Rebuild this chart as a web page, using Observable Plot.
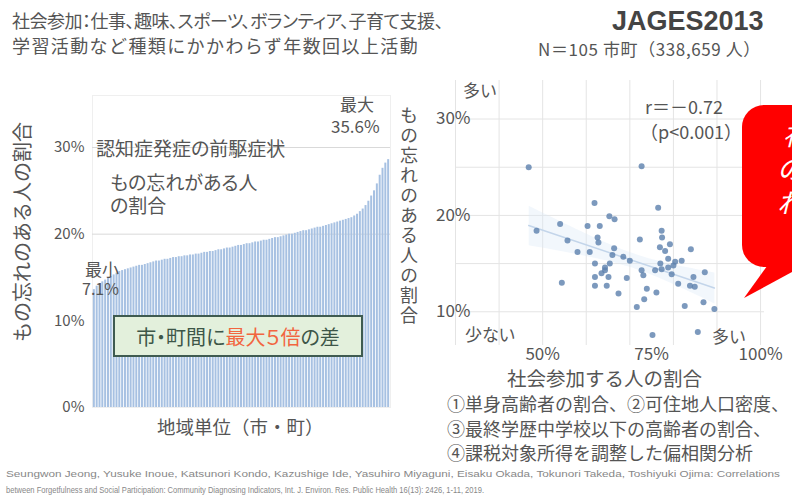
<!DOCTYPE html>
<html><head><meta charset="utf-8">
<script src="https://cdn.jsdelivr.net/npm/d3@7"></script>
<script src="https://cdn.jsdelivr.net/npm/@observablehq/plot@0.6"></script>
<style>
html,body{margin:0;padding:0;background:#fff;overflow:hidden;}
#root{position:relative;width:792px;height:501px;overflow:hidden;font-family:"Noto Sans CJK JP","Noto Sans",sans-serif;color:#555;}
.t{position:absolute;line-height:1;white-space:nowrap;transform:translateY(-50%);transform-origin:0 50%;}
.abs{position:absolute;}
</style></head>
<body><div id="root"></div>
<script>
// ---- data ----
// Left: forgetfulness share by municipality (sorted), 105 municipalities
const barValues = [
 13.6,14.0,14.3,14.5,14.7,14.9,15.1,15.3,15.5,15.7,
 15.8,15.9,16.0,16.1,16.2,16.3,16.4,16.4,16.5,16.6,
 16.7,16.8,16.9,16.9,17.0,17.1,17.1,17.2,17.3,17.3,
 17.4,17.4,17.5,17.5,17.6,17.6,17.7,17.7,17.8,17.9,
 17.9,18.0,18.0,18.1,18.2,18.2,18.3,18.4,18.4,18.5,
 18.6,18.7,18.7,18.8,18.9,18.9,19.0,19.1,19.1,19.2,
 19.3,19.3,19.4,19.5,19.6,19.6,19.7,19.8,19.9,20.0,
 20.0,20.1,20.2,20.3,20.4,20.4,20.5,20.6,20.7,20.8,
 20.8,20.9,21.0,21.1,21.2,21.3,21.4,21.5,21.6,21.7,
 21.8,21.9,22.1,22.3,22.6,22.9,23.3,23.8,24.4,25.0,
 25.8,26.8,27.6,28.2,28.6
];
const leftTicks = [0, 10, 20, 30];
const leftGrid = [20, 30];

// Right: social participation (%) vs forgetfulness (%)
const participation = [46.8,72.7,61.9,76.5,65.3,66.5,54.0,48.6,60.3,63.1,55.7,62.6,62.8,58.0,60.8,66.4,72.3,77.3,77.4,76.9,78.1,84.0,68.5,70.0,62.0,64.3,65.4,64.3,62.0,65.1,62.0,64.7,69.3,72.7,73.1,75.8,77.3,78.8,80.4,81.9,79.6,78.8,84.6,87.2,81.1,83.8,84.9,54.4,73.9,76.1,67.4,73.3,71.6,82.6,86.9,89.4,75.2,85.6,63.5,80.0,77.0,66.0,79.2];
const forgetful     = [25.0,25.1,21.3,20.8,19.9,19.6,19.1,18.4,18.9,18.9,17.4,17.7,17.2,16.2,16.2,16.6,17.5,18.4,17.7,16.7,16.3,16.5,15.7,15.3,15.0,14.6,15.0,14.3,13.6,13.6,12.7,12.7,13.5,14.3,13.8,14.3,14.4,14.6,15.2,15.3,13.9,15.5,13.6,14.1,12.9,12.7,12.6,13.0,12.4,12.0,11.9,11.3,10.5,10.6,11.0,10.3,7.6,7.9,14.0,14.8,15.0,15.9,17.0];
const rightXTicks = [50, 75, 100];
const rightYTicks = [10, 20, 30];
const rightGridX = [30, 40, 50, 60, 70, 80, 90, 100];
const rightGridY = [10, 15, 20, 25, 30];

const root = document.getElementById("root");
const font = '"Noto Sans CJK JP","Noto Sans",sans-serif';

// ---- left bar chart ----
const barData = barValues.map((v, i) => ({i, v}));
const left = Plot.plot({
  width: 400, height: 380,
  marginLeft: 92, marginRight: 10, marginTop: 35, marginBottom: 33,
  style: {fontFamily: font, fontSize: "15px", background: "transparent", color: "#555"},
  x: {type: "band", domain: barData.map(d => d.i), padding: 0.3, axis: null},
  y: {domain: [0, 36], axis: null},
  marks: [
    Plot.frame({stroke: "#efefef"}),
    Plot.gridY(leftGrid, {stroke: "#d9d9d9", strokeOpacity: 1}),
    Plot.barY(barData, {x: "i", y: "v", fill: "#a7c1e2"}),
    Plot.axisY(leftTicks, {tickSize: 0, tickPadding: 8, tickFormat: d => d + "%", fontSize: 15, fill: "#555", label: null})
  ]
});
left.style.position = "absolute"; left.style.left = "0px"; left.style.top = "60px";
root.appendChild(left);

// ---- right scatter ----
const pts = participation.map((x, k) => ({x, y: forgetful[k]}));
const right = Plot.plot({
  width: 392, height: 320,
  marginLeft: 55, marginRight: 28, marginTop: 20, marginBottom: 35,
  style: {fontFamily: font, fontSize: "17px", background: "transparent", color: "#555"},
  x: {domain: [30, 100.9], axis: null},
  y: {domain: [6.5, 34], axis: null},
  marks: [
    Plot.gridX(rightGridX, {stroke: "#e4e4e4", strokeOpacity: 1}),
    Plot.gridY(rightGridY, {stroke: "#e4e4e4", strokeOpacity: 1}),
    Plot.linearRegressionY(pts, {x: "x", y: "y", stroke: "#c3d5ea", strokeWidth: 1.5, fill: "#dbe8f6", fillOpacity: 0.35}),
    Plot.dot(pts, {x: "x", y: "y", r: 3, fill: "#5b80ad", fillOpacity: 0.8}),
    Plot.axisX(rightXTicks, {tickSize: 0, tickPadding: 2, tickFormat: d => d + "%", fontSize: 17, fill: "#555", label: null}),
    Plot.axisY(rightYTicks, {tickSize: 0, tickPadding: -15, tickFormat: d => d + "%", fontSize: 17, fill: "#555", label: null})
  ]
});
right.style.position = "absolute"; right.style.left = "400px"; right.style.top = "60px";
root.appendChild(right);

// ---- text annotations ----
function place(txt, x, y, size, extra = {}) {
  const d = document.createElement("div");
  d.className = "t";
  d.textContent = txt;
  d.style.left = x + "px"; d.style.top = y + "px"; d.style.fontSize = size + "px";
  Object.assign(d.style, extra);
  root.appendChild(d);
  return d;
}
function fitWidth(el, target) {
  const w = el.getBoundingClientRect().width;
  el.style.transform = `translateY(-50%) scaleX(${target / w})`;
}
const palt = {fontFeatureSettings: '"palt"'};
place("社会参加：仕事、趣味、スポーツ、ボランティア、子育て支援、", 12, 20, 18, {...palt, letterSpacing: "-0.5px"});
place("学習活動など種類にかかわらず年数回以上活動", 12, 45, 18, {letterSpacing: "1.4px"});
place("JAGES2013", 612, 21, 27, {fontFamily: '"Liberation Sans",Arial,sans-serif', fontWeight: "bold", color: "#444"});
place("N＝105 市町（338,659 人）", 538, 48, 17, {letterSpacing: "0.6px"});

place("最大", 340, 103, 17);
place("35.6%", 331, 125, 17);
place("認知症発症の前駆症状", 96, 147, 19, palt);
place("もの忘れがある人", 110, 181, 19, palt);
place("の割合", 110, 204, 19, palt);
place("最小", 85, 268, 17);
place("7.1%", 82, 288, 16);
place("地域単位（市・町）", 157, 426, 18.5);

// rotated left axis title
const lt = document.createElement("div");
lt.className = "abs";
lt.textContent = "もの忘れのある人の割合";
Object.assign(lt.style, {left: "22px", top: "232px", fontSize: "20px", lineHeight: "1", whiteSpace: "nowrap", transform: "translate(-50%,-50%) rotate(-90deg)"});
root.appendChild(lt);

// vertical right axis title
const vt = document.createElement("div");
vt.className = "abs";
vt.textContent = "もの忘れのある人の割合";
Object.assign(vt.style, {left: "400px", top: "106px", fontSize: "18px", lineHeight: "1", writingMode: "vertical-rl", letterSpacing: "2px"});
root.appendChild(vt);

// box
const box = document.createElement("div");
box.className = "abs";
Object.assign(box.style, {left: "113px", top: "315px", width: "246px", height: "38px", background: "#e3f0dc", border: "2px solid #3f5b50", display: "flex", alignItems: "center", justifyContent: "center", fontSize: "20px", color: "#3d5648", whiteSpace: "nowrap", fontFeatureSettings: '"palt"'});
box.innerHTML = '市・町間に<span style="color:#f2653f">最大５倍</span>の差';
root.appendChild(box);

// right annotations
place("r＝－0.72", 645, 106, 18);
place("（p<0.001）", 640, 131, 18);
place("多い", 463, 89, 17);
place("少ない", 465, 333, 17, palt);
place("多い", 712, 335, 17);
place("社会参加する人の割合", 507, 378, 19.5);
place("①単身高齢者の割合、②可住地人口密度、", 447, 403, 18);
place("③最終学歴中学校以下の高齢者の割合、", 447, 428, 18);
place("④課税対象所得を調整した偏相関分析", 447, 452, 18);

// caption
const c1 = place("Seungwon Jeong, Yusuke Inoue, Katsunori Kondo, Kazushige Ide, Yasuhiro Miyaguni, Eisaku Okada, Tokunori Takeda, Toshiyuki Ojima: Correlations", 6, 474, 9, {color: "#888", fontFamily: '"Liberation Sans",sans-serif'});
const c2 = place("between Forgetfulness and Social Participation: Community Diagnosing Indicators, Int. J. Environ. Res. Public Health 16(13): 2426, 1-11, 2019.", 6, 490, 9, {color: "#888", fontFamily: '"Liberation Sans",sans-serif'});
fitWidth(c1, 774);
fitWidth(c2, 478);

// red callout (cut off by the right edge)
const call = document.createElement("div");
call.className = "abs";
Object.assign(call.style, {left: "742px", top: "105px", width: "160px", height: "162px", background: "#ff0000", borderRadius: "22px", color: "#fff", fontStyle: "italic", fontSize: "27px", lineHeight: "34px", paddingTop: "12px", paddingLeft: "35px", boxSizing: "border-box", whiteSpace: "nowrap"});
call.innerHTML = '<div style="padding-left:6px">社会参加が</div><div>の多い地域ほど</div><div>れが少ない</div>';
root.appendChild(call);
const tail = document.createElementNS("http://www.w3.org/2000/svg", "svg");
tail.setAttribute("width", "792"); tail.setAttribute("height", "501");
Object.assign(tail.style, {position: "absolute", left: "0", top: "0", pointerEvents: "none"});
tail.innerHTML = '<polygon points="770,262 792,262 792,272 744,298" fill="#ff0000"/>';
root.appendChild(tail);
</script>
</body></html>
